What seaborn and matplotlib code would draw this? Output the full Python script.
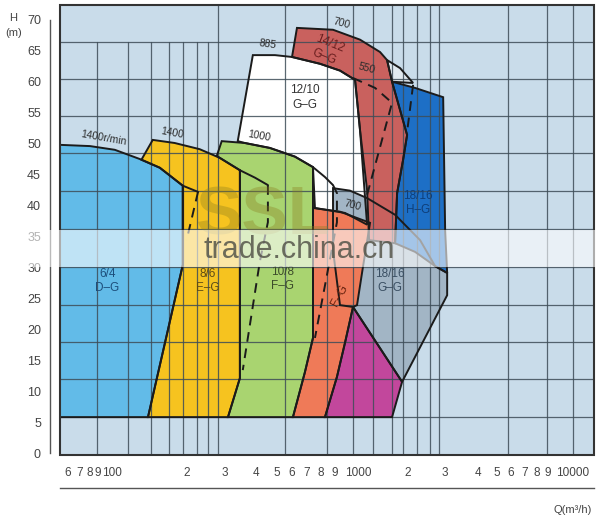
import matplotlib
matplotlib.use("Agg")
import matplotlib.pyplot as plt
import seaborn as sns
from matplotlib.patches import Rectangle
from matplotlib.ticker import MultipleLocator, NullLocator

# --- DATA (Q in m3/h, H in m) ---
# 6/4 D-G
q_d = [54, 74, 96, 125, 154, 196, 196, 136, 54]
h_d = [49.8, 49.6, 49.0, 47.5, 46.1, 43.2, 30.4, 5.8, 5.8]
# 8/6 E-G
q_e = [127, 143, 180, 234, 289, 357, 357, 315, 136, 196, 196, 154]
h_e = [47.4, 50.6, 50.1, 49.1, 47.7, 45.7, 12.1, 5.8, 5.8, 30.4, 43.2, 46.1]
# 10/8 F-G
q_f = [280, 295, 376, 489, 636, 769, 769, 707, 623, 315, 357, 357, 321]
h_f = [48.0, 50.4, 50.1, 49.3, 47.9, 46.2, 18.6, 13.1, 5.8, 5.8, 12.1, 45.7, 46.7]
# 12/10 G-G
q_g = [349, 409, 516, 617, 828, 1021, 1196, 1260, 1357, 1076, 785, 769, 636, 489, 376]
h_g = [50.4, 64.3, 64.3, 64.0, 62.9, 61.8, 60.3, 52.2, 36.9, 38.8, 39.6, 46.2, 47.9, 49.3, 50.1]
# 18/16 G-G
q_gg = [949, 1134, 1357, 1821, 2368, 2773, 3146, 3146, 1960, 1171, 1021, 949]
h_gg = [42.8, 42.4, 41.2, 38.5, 34.4, 30.2, 29.1, 25.5, 11.5, 23.6, 23.9, 32.8]
# F-G (orange)
q_o = [769, 1021, 1400, 1300, 1221, 1171, 1076, 989, 872, 623, 707, 769]
h_o = [39.6, 39.0, 37.2, 30.1, 23.9, 23.6, 17.8, 12.3, 5.8, 5.8, 13.1, 18.6]
# magenta
q_m = [1171, 1960, 1764, 872, 989, 1076]
h_m = [23.6, 11.5, 5.8, 5.8, 12.3, 17.8]
# 14/12 G-G
q_r = [650, 617, 828, 1021, 1196, 1260, 1357, 1386, 1821, 1860, 1981, 2066, 1764, 1674, 1555, 1260, 949]
h_r = [68.7, 64.0, 62.9, 61.8, 60.3, 52.2, 42.5, 34.4, 33.9, 42.0, 47.4, 51.4, 60.0, 63.5, 64.8, 66.8, 68.4]
# small light sliver between 14/12 and 18/16 H-G
q_s = [1674, 1919, 2200, 1764]
h_s = [63.5, 62.2, 59.8, 60.0]
# 18/16 H-G
q_h = [1764, 2247, 3017, 3080, 3146, 2773, 2247, 1821, 1860, 1981, 2066]
h_h = [60.0, 59.0, 57.5, 36.0, 29.1, 30.2, 32.5, 33.9, 42.0, 47.4, 51.4]

# curve continuations (solid) and max-flow limits (dashed)
ext_d_q, ext_d_h = [196, 230], [43.2, 42.2]
ext_e_q, ext_e_h = [357, 418, 479], [45.7, 44.5, 43.3]
ext_f_q, ext_f_h = [769, 872, 949], [46.2, 44.6, 43.3]
dash_d_q, dash_d_h = [230, 204], [42.2, 34.4]
dash_e_q, dash_e_h = [479, 479, 440, 368], [43.3, 37.3, 30.9, 13.4]
dash_f_q, dash_f_h = [949, 989, 989, 891, 785], [43.3, 42.0, 37.3, 28.8, 18.6]
dash_r_q, dash_r_h = [1171, 1476, 1764, 1357], [60.6, 59.0, 56.6, 41.7]
dash_h_q, dash_h_h = [2200, 2066], [59.5, 51.9]

# paper grid
grid_q_short = [80, 110, 140, 169, 196, 227, 255]
grid_q_full = [283, 573, 890, 1170, 1440, 1770, 1980, 2290, 2630, 2890, 5970, 8990, 11800]
grid_h = [5.8, 11.9, 17.9, 23.9, 30.0, 36.2, 42.4, 48.5, 54.4, 60.5, 66.5]

# bottom scale: tick marks and where the printed numbers sit
x_ticks = [60, 70, 80, 90, 100, 200, 300, 400, 500, 600, 700, 800, 900,
           1000, 2000, 3000, 4000, 5000, 6000, 7000, 8000, 9000, 10000]
x_label_pos = [58.5, 66.4, 73.7, 80.2, 92.9, 204, 305, 422, 527, 617, 722, 836, 969,
               1234, 2088, 3080, 4360, 5320, 6100, 7070, 8020, 9000, 11700]
x_labels = ['6', '7', '8', '9', '100', '2', '3', '4', '5', '6', '7', '8', '9',
            '1000', '2', '3', '4', '5', '6', '7', '8', '9', '10000']

# --- STYLE ---
sns.set_style("white")
plt.rcParams['font.family'] = ['Liberation Sans', 'DejaVu Sans']

fig = plt.figure(figsize=(6, 5.22), dpi=100)
ax = fig.add_axes([0.1, 1 - 455 / 522, 0.89, 450 / 522])
ax.set_facecolor('#c9dcea')
ax.set_xscale('log')
ax.set_xlim(54, 14700)
ax.set_ylim(-0.32, 72.4)

# grid
for q in grid_q_short:
    ax.plot([q, q], [-0.32, 66.5], color='#3e4d58', lw=0.9, zorder=3, alpha=0.85)
for q in grid_q_full:
    ax.axvline(q, color='#3e4d58', lw=0.9, zorder=3, alpha=0.85)
for h in grid_h:
    ax.axhline(h, color='#3e4d58', lw=0.9, zorder=3, alpha=0.85)

# --- REGIONS ---
regions = [
    (q_d, h_d, '#62bbe8'),
    (q_e, h_e, '#f6c31f'),
    (q_f, h_f, '#a9d470'),
    (q_g, h_g, '#ffffff'),
    (q_gg, h_gg, '#a2b5c5'),
    (q_o, h_o, '#ef7a58'),
    (q_m, h_m, '#c2479c'),
    (q_s, h_s, '#e2eaf0'),
    (q_r, h_r, '#c9615e'),
    (q_h, h_h, '#1d6fc6'),
]
for i, (q, h, c) in enumerate(regions):
    ax.fill(q, h, facecolor=c, edgecolor='none', zorder=2)
    ax.fill(q, h, facecolor='none', edgecolor='#1b1b1b', lw=1.4, zorder=4 + i * 0.01)

for q, h in [(ext_d_q, ext_d_h), (ext_e_q, ext_e_h), (ext_f_q, ext_f_h)]:
    sns.lineplot(x=q, y=h, sort=False, estimator=None, color='#1b1b1b', lw=1.4, ax=ax, zorder=5)
for q, h in [(dash_d_q, dash_d_h), (dash_e_q, dash_e_h), (dash_f_q, dash_f_h),
             (dash_r_q, dash_r_h), (dash_h_q, dash_h_h)]:
    sns.lineplot(x=q, y=h, sort=False, estimator=None, color='#1b1b1b', lw=1.4,
                 linestyle=(0, (5, 3.5)), ax=ax, zorder=5)

# --- LABELS ---
lab = dict(ha='center', va='center', fontsize=8.5, zorder=6, linespacing=1.3)
ax.text(89, 27.8, '6/4\nD–G', color='#1d4f7c', **lab)
ax.text(255, 27.8, '8/6\nE–G', color='#5e4c16', **lab)
ax.text(561, 28.1, '10/8\nF–G', color='#3c4c2a', **lab)
ax.text(707, 57.4, '12/10\nG–G', color='#333333', **lab)
ax.text(891, 65.1, '14/12\nG–G', color='#6a1f1f', rotation=-22, **lab)
ax.text(2320, 40.4, '18/16\nH–G', color='#0f3f7a', **lab)
ax.text(1728, 27.8, '18/16\nG–G', color='#3a4f63', **lab)
ax.text(1021, 25.5, 'F–G', color='#6b2410', rotation=62, **lab)

spd = dict(ha='center', va='center', fontsize=7.5, color='#2b2b2b', zorder=6)
ax.text(85, 50.9, '1400r/min', rotation=-10, **spd)
ax.text(175, 51.7, '1400', rotation=-10, **spd)
ax.text(436, 51.2, '1000', rotation=-10, **spd)
ax.text(479, 66.1, '885', rotation=-8, **spd)
ax.text(1043, 69.5, '700', rotation=-15, **spd)
ax.text(1357, 62.2, '550', rotation=-15, **spd)
ax.text(1159, 40.1, '700', rotation=-15, **spd)

# frame of the plot area
ax.add_patch(Rectangle((0, 0), 1, 1, transform=ax.transAxes, fill=False,
                       edgecolor='#333333', lw=1.5, zorder=7, clip_on=False))

# --- AXES ---
for s in ['top', 'right']:
    ax.spines[s].set_visible(False)
ax.spines['left'].set_position(('outward', 7.2))
ax.spines['left'].set_bounds(0, 70)
ax.spines['bottom'].set_position(('outward', 23.8))
for s in ['left', 'bottom']:
    ax.spines[s].set_color('#555555')
    ax.spines[s].set_linewidth(1.0)

ax.set_yticks(range(0, 71, 5))
ax.yaxis.set_minor_locator(MultipleLocator(1))
ax.tick_params(axis='y', which='major', direction='out', length=5, width=0.9,
               pad=1.5, labelsize=9, colors='#444444')
ax.tick_params(axis='y', which='minor', direction='out', length=2.5, width=0.7, colors='#555555')

ax.set_xticks(x_ticks)
ax.set_xticklabels([])
ax.xaxis.set_minor_locator(NullLocator())
ax.tick_params(axis='x', which='major', direction='inout', length=5, width=0.8, colors='#555555')
xt = ax.get_xaxis_transform()
for q, t in zip(x_label_pos, x_labels):
    ax.text(q, -0.04, t, transform=xt, ha='center', va='center', fontsize=8.5,
            color='#444444', clip_on=False)
ax.set_xlabel('')
ax.set_ylabel('')

fig.text(0.022, 0.9655, 'H', ha='center', va='center', fontsize=8, color='#444444')
fig.text(0.022, 0.9368, '(m)', ha='center', va='center', fontsize=8, color='#444444')
fig.text(0.955, 0.023, 'Q(m³/h)', ha='center', va='center', fontsize=8, color='#444444')

# --- WATERMARK BAND ---
fig.text(0.44, 0.585, 'SSL', ha='center', va='center', fontsize=50, fontweight='bold',
         color='#8a7d1e', alpha=0.35, zorder=9)
fig.patches.append(Rectangle((0.04, 0.4885), 0.96, 0.071, transform=fig.transFigure,
                             facecolor='white', edgecolor='none', alpha=0.6, zorder=10))
fig.text(0.498, 0.521, 'trade.china.cn', ha='center', va='center', fontsize=22,
         color='#55554a', alpha=0.85, zorder=11)

fig.savefig('out.png', dpi=100)
